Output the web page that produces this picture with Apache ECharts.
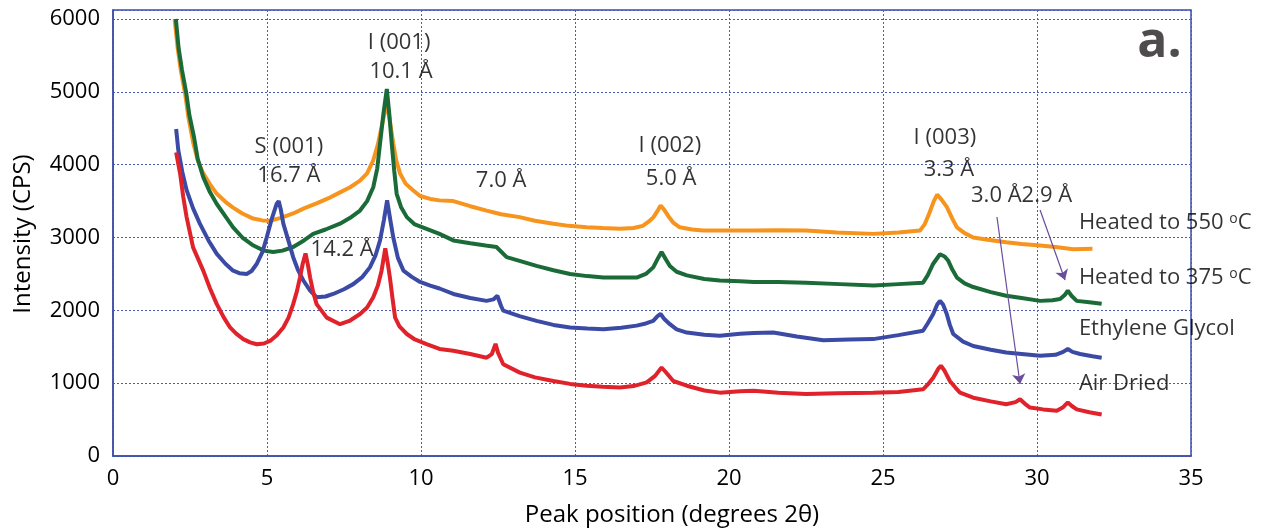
<!DOCTYPE html>
<html>
<head>
<meta charset="utf-8">
<script src="https://cdn.jsdelivr.net/npm/echarts/dist/echarts.min.js"></script>
<style>
html,body{margin:0;padding:0;background:#fff;}
#chart{width:1265px;height:531px;}
</style>
</head>
<body>
<div id="chart"></div>
<script>
// ---------------- DATA ----------------
const xAxisRange = [0, 35];
const xTickStep = 5;
const yAxisRange = [0, 6124];
const yTickStep = 1000;

const seriesNames = ['Heated to 550 ºC', 'Heated to 375 ºC', 'Ethylene Glycol', 'Air Dried'];

const heated550 = [[2.0,6000],[2.1,5600],[2.2,5300],[2.34,4980],[2.45,4650],[2.61,4290],[2.75,4060],[2.93,3880],[3.15,3730],[3.37,3600],[3.65,3490],[3.9,3410],[4.2,3330],[4.55,3260],[4.85,3235],[5.1,3230],[5.45,3270],[5.85,3330],[6.2,3400],[6.61,3470],[7.0,3540],[7.37,3620],[7.7,3690],[8.02,3780],[8.25,3880],[8.45,4060],[8.6,4280],[8.72,4520],[8.82,4720],[8.89,4840],[8.97,4650],[9.1,4290],[9.2,4050],[9.32,3880],[9.5,3740],[9.74,3650],[9.97,3570],[10.3,3530],[10.6,3510],[11.05,3500],[11.6,3430],[12.13,3370],[12.6,3320],[13.2,3280],[13.7,3230],[14.3,3190],[14.8,3160],[15.38,3140],[15.9,3130],[16.46,3120],[16.9,3130],[17.2,3160],[17.4,3220],[17.55,3280],[17.7,3380],[17.78,3440],[17.9,3380],[18.02,3300],[18.2,3200],[18.4,3140],[18.8,3110],[19.16,3095],[20.0,3095],[20.8,3095],[21.6,3100],[22.5,3095],[23.5,3070],[24.68,3050],[25.5,3070],[26.2,3095],[26.35,3180],[26.5,3330],[26.65,3500],[26.76,3590],[26.9,3520],[27.07,3420],[27.25,3260],[27.4,3140],[27.65,3060],[27.93,3000],[28.4,2970],[29.0,2935],[29.5,2910],[30.1,2890],[30.6,2870],[31.18,2840],[31.8,2845]];

const heated375 = [[2.04,6000],[2.13,5600],[2.24,5300],[2.38,4980],[2.48,4680],[2.63,4380],[2.75,4080],[2.93,3830],[3.15,3620],[3.37,3460],[3.65,3290],[3.9,3140],[4.2,3000],[4.56,2890],[4.9,2820],[5.2,2800],[5.5,2820],[5.85,2870],[6.2,2960],[6.5,3050],[6.9,3110],[7.37,3190],[7.7,3270],[8.02,3370],[8.25,3500],[8.45,3690],[8.58,3950],[8.67,4290],[8.78,4700],[8.89,5040],[8.97,4700],[9.05,4290],[9.13,3920],[9.21,3600],[9.35,3420],[9.54,3280],[9.8,3180],[10.18,3120],[10.6,3050],[11.05,2960],[11.6,2920],[12.1,2890],[12.45,2870],[12.78,2730],[13.2,2680],[13.75,2610],[14.3,2550],[14.84,2500],[15.4,2470],[15.92,2450],[16.5,2450],[17.0,2450],[17.3,2500],[17.54,2590],[17.7,2720],[17.81,2800],[17.95,2700],[18.08,2610],[18.3,2530],[18.63,2480],[19.2,2430],[19.7,2410],[20.36,2400],[20.8,2390],[21.6,2390],[22.5,2380],[23.6,2360],[24.7,2340],[25.5,2360],[26.3,2380],[26.45,2480],[26.63,2640],[26.85,2770],[27.0,2740],[27.12,2680],[27.25,2560],[27.4,2450],[27.65,2370],[27.93,2320],[28.5,2250],[29.0,2200],[29.5,2170],[30.1,2130],[30.5,2140],[30.75,2155],[30.9,2210],[31.0,2270],[31.12,2200],[31.29,2130],[31.7,2110],[32.1,2090]];

const ethyleneGlycol = [[2.05,4490],[2.12,4200],[2.25,3900],[2.39,3650],[2.6,3400],[2.82,3190],[3.1,2960],[3.37,2775],[3.65,2640],[3.9,2545],[4.1,2510],[4.34,2500],[4.5,2540],[4.67,2640],[4.85,2800],[4.99,3000],[5.15,3250],[5.31,3460],[5.38,3500],[5.45,3380],[5.53,3190],[5.7,2950],[5.85,2730],[6.0,2560],[6.18,2410],[6.4,2270],[6.61,2180],[6.9,2190],[7.15,2225],[7.5,2290],[7.8,2360],[8.1,2460],[8.34,2590],[8.52,2750],[8.67,2960],[8.8,3250],[8.9,3510],[9.0,3250],[9.1,3000],[9.25,2720],[9.43,2545],[9.7,2460],[9.97,2390],[10.3,2340],[10.6,2300],[11.05,2225],[11.6,2170],[12.13,2130],[12.35,2150],[12.48,2200],[12.6,2060],[12.67,1995],[13.2,1920],[13.75,1855],[14.3,1800],[14.84,1765],[15.4,1750],[15.92,1740],[16.5,1760],[17.0,1790],[17.3,1820],[17.54,1855],[17.68,1920],[17.78,1950],[17.9,1880],[18.08,1810],[18.3,1740],[18.63,1695],[19.2,1665],[19.7,1650],[20.36,1680],[20.8,1690],[21.44,1695],[22.2,1640],[23.06,1590],[23.9,1600],[24.68,1605],[25.5,1660],[26.3,1720],[26.45,1820],[26.63,1950],[26.76,2080],[26.85,2130],[26.95,2080],[27.07,1950],[27.17,1800],[27.28,1675],[27.6,1570],[27.93,1510],[28.5,1460],[29.0,1420],[29.5,1400],[30.1,1375],[30.6,1390],[30.85,1430],[31.0,1470],[31.15,1430],[31.4,1400],[31.8,1370],[32.1,1350]];

const airDried = [[2.05,4170],[2.18,3875],[2.28,3560],[2.39,3280],[2.6,2865],[2.93,2545],[3.15,2300],[3.37,2085],[3.6,1900],[3.8,1765],[4.0,1680],[4.23,1605],[4.45,1560],[4.67,1535],[4.9,1545],[5.1,1580],[5.3,1650],[5.53,1765],[5.7,1900],[5.85,2085],[5.97,2260],[6.07,2450],[6.16,2640],[6.25,2780],[6.33,2620],[6.4,2450],[6.5,2250],[6.61,2085],[6.94,1900],[7.37,1810],[7.7,1860],[8.02,1950],[8.25,2040],[8.45,2180],[8.6,2340],[8.72,2545],[8.84,2850],[8.92,2650],[8.99,2450],[9.08,2150],[9.16,1900],[9.3,1780],[9.54,1675],[9.8,1600],[10.18,1535],[10.6,1470],[11.05,1445],[11.6,1400],[12.13,1350],[12.3,1400],[12.42,1540],[12.5,1420],[12.67,1260],[13.21,1145],[13.7,1080],[14.3,1030],[14.84,990],[15.38,965],[15.9,950],[16.46,940],[16.9,960],[17.33,1010],[17.6,1100],[17.81,1215],[17.95,1150],[18.19,1030],[18.63,965],[19.2,900],[19.7,870],[20.36,890],[20.8,895],[21.6,870],[22.5,850],[23.5,860],[24.68,870],[25.5,880],[26.3,915],[26.45,980],[26.63,1075],[26.8,1200],[26.88,1240],[27.0,1170],[27.17,1030],[27.35,940],[27.5,870],[27.93,800],[28.5,750],[29.0,710],[29.3,740],[29.45,780],[29.6,720],[29.77,665],[30.2,640],[30.64,620],[30.85,670],[31.0,735],[31.12,690],[31.29,640],[31.7,600],[32.1,570]];

// peak annotations: [x, y, text]
const peakNotes = [
  [5.71, 4243, 'S (001)'],
  [5.71, 3845, '16.7 Å'],
  [9.29, 5671, 'I (001)'],
  [9.35, 5273, '10.1 Å'],
  [12.6, 3776, '7.0 Å'],
  [18.08, 4256, 'I (002)'],
  [18.12, 3803, '5.0 Å'],
  [27.01, 4366, 'I (003)'],
  [27.14, 3927, '3.3 Å'],
  [29.5, 3570, '3.0 Å2.9 Å'],
  [7.44, 2828, '14.2 Å']
];
// curve labels: [x, y, text, unit]
const curveNotes = [
  [31.36, 3199, 'Heated to 550 ', 'C'],
  [31.36, 2444, 'Heated to 375 ', 'C'],
  [31.36, 1744, 'Ethylene Glycol', ''],
  [31.36, 989, 'Air Dried', '']
];
const panelLetter = [33.98, 5678, 'a.'];
// arrows: [x1, y1, x2, y2]
const arrows = [
  [28.7, 3282, 29.45, 989],
  [30.1, 3378, 30.91, 2417]
];
const xAxisName = 'Peak position (degrees 2θ)';
const yAxisName = 'Intensity (CPS)';

// ---------------- CHART ----------------
const FONT = '"Open Sans", "DejaVu Sans", sans-serif';
const frameColor = '#3D4EA8';
const gridColor = '#4A5BB8';
const textColor = '#000';
const colors = ['#F7941D', '#1B6B38', '#3B4BA5', '#E0222B'];
const curves = [heated550, heated375, ethyleneGlycol, airDried];

const chart = echarts.init(document.getElementById('chart'), null, {renderer: 'canvas'});

const lineSeries = curves.map((d, i) => ({
  name: seriesNames[i],
  type: 'line',
  data: d,
  showSymbol: false,
  symbol: 'none',
  smooth: false,
  lineStyle: {color: colors[i], width: 4},
  itemStyle: {color: colors[i]},
  z: 2 + i,
  silent: true
}));

const option = {
  animation: false,
  backgroundColor: '#fff',
  grid: {
    left: 113, right: 74, top: 10, bottom: 75,
    show: true, borderColor: frameColor, borderWidth: 1.5, backgroundColor: 'transparent'
  },
  xAxis: {
    type: 'value', min: xAxisRange[0], max: xAxisRange[1], interval: xTickStep,
    axisLine: {show: true, onZero: false, lineStyle: {color: frameColor, width: 1.5}},
    axisTick: {show: false},
    axisLabel: {color: textColor, fontSize: 22, fontFamily: FONT, margin: 12},
    splitLine: {show: true, lineStyle: {color: gridColor, type: [2, 2], width: 1}}
  },
  yAxis: {
    type: 'value', min: yAxisRange[0], max: yAxisRange[1], interval: yTickStep,
    axisLine: {show: true, onZero: false, lineStyle: {color: frameColor, width: 1.5}},
    axisTick: {show: false},
    axisLabel: {color: textColor, fontSize: 22, fontFamily: FONT, margin: 13,
      formatter: v => (v % 1000 === 0 ? String(v) : '')},
    splitLine: {show: true, lineStyle: {color: gridColor, type: [2, 2], width: 1}}
  },
  graphic: [
    {type: 'text', x: 672, y: 515, silent: true,
      style: {text: xAxisName, fill: textColor, font: '24px ' + FONT,
        textAlign: 'center', textVerticalAlign: 'middle'}},
    {type: 'text', rotation: Math.PI / 2, x: 23, y: 234, silent: true,
      style: {text: yAxisName, fill: textColor, font: '24px ' + FONT,
        textAlign: 'center', textVerticalAlign: 'middle'}}
  ],
  series: lineSeries.concat([
    {
      type: 'scatter', symbolSize: 0, silent: true, z: 10,
      data: peakNotes.map(n => ({value: [n[0], n[1]], name: n[2]})),
      label: {show: true, position: 'inside', formatter: p => p.name,
        color: textColor, fontSize: 22, fontFamily: FONT},
      markLine: {
        silent: true, symbol: ['none', 'arrow'], symbolSize: 10,
        label: {show: false},
        lineStyle: {color: '#6A4C9C', width: 1.2, type: 'solid'},
        emphasis: {disabled: true},
        data: arrows.map(a => [{coord: [a[0], a[1]]}, {coord: [a[2], a[3]]}])
      }
    },
    {
      type: 'scatter', symbolSize: 0, silent: true, z: 10,
      data: curveNotes.map(n => ({value: [n[0], n[1]], name: n[2], sup: n[3]})),
      label: {show: true, position: 'right', distance: 0,
        formatter: p => p.data.sup ? '{t|' + p.name + '}{s|o}{t|' + p.data.sup + '}' : '{t|' + p.name + '}',
        rich: {
          t: {color: textColor, fontSize: 22, fontFamily: FONT},
          s: {color: textColor, fontSize: 14, fontFamily: FONT, verticalAlign: 'top'}
        }}
    },
    {
      type: 'scatter', symbolSize: 0, silent: true, z: 10,
      data: [{value: [panelLetter[0], panelLetter[1]], name: panelLetter[2]}],
      label: {show: true, position: 'inside', formatter: p => p.name,
        color: '#231F20', fontSize: 50, fontWeight: 'bold', fontFamily: FONT}
    }
  ])
};
chart.setOption(option);
</script>
</body>
</html>
